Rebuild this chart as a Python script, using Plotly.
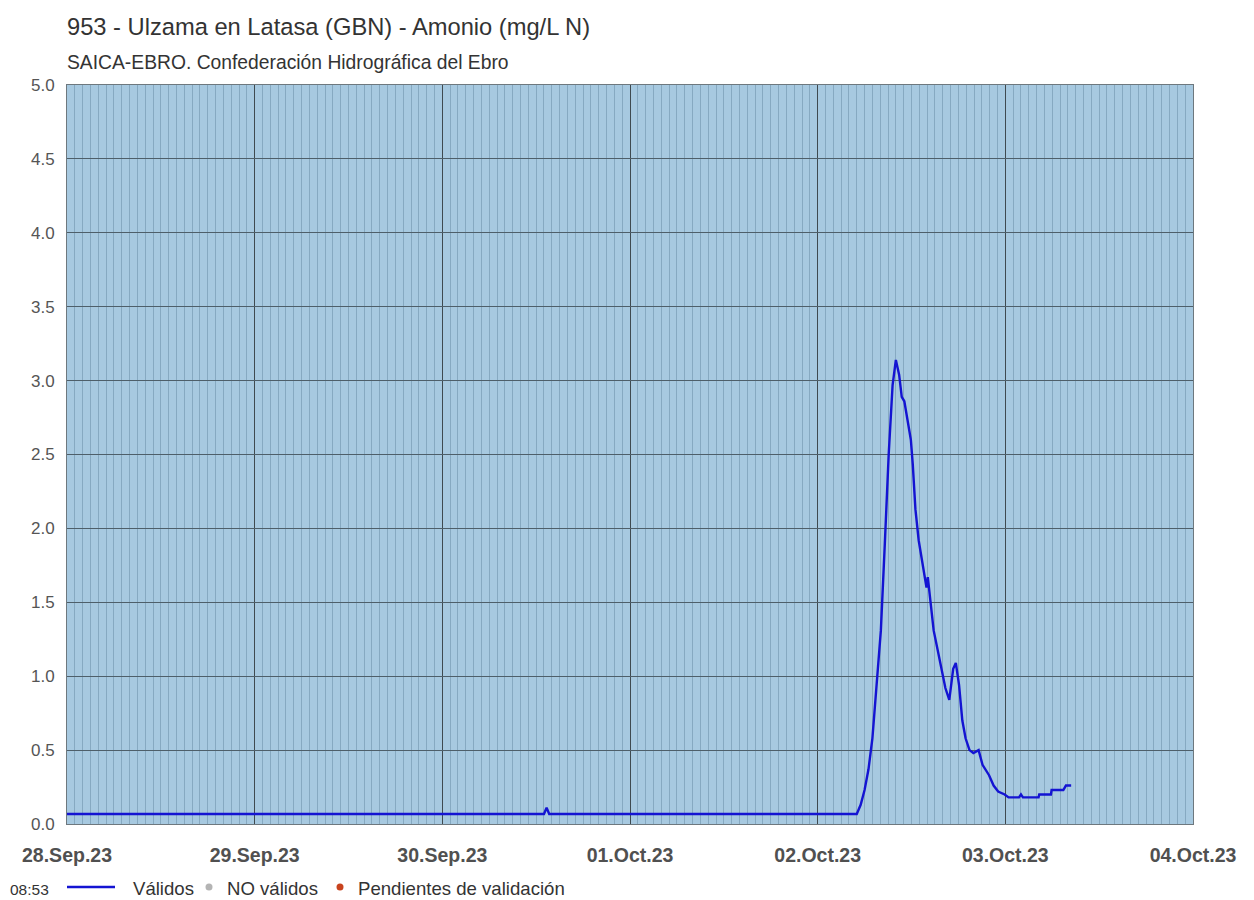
import plotly.graph_objects as go

times = [
    "2023-09-28 00:00", "2023-09-30 13:00", "2023-09-30 13:20", "2023-09-30 13:40",
    "2023-10-02 05:00", "2023-10-02 05:30", "2023-10-02 06:00", "2023-10-02 06:30",
    "2023-10-02 07:00", "2023-10-02 07:30", "2023-10-02 08:05", "2023-10-02 08:35",
    "2023-10-02 09:05", "2023-10-02 09:35", "2023-10-02 10:00", "2023-10-02 10:25",
    "2023-10-02 10:45", "2023-10-02 11:05", "2023-10-02 11:30", "2023-10-02 11:55",
    "2023-10-02 12:10", "2023-10-02 12:30", "2023-10-02 12:55", "2023-10-02 13:25",
    "2023-10-02 13:55", "2023-10-02 14:05", "2023-10-02 14:20", "2023-10-02 14:50",
    "2023-10-02 15:20", "2023-10-02 15:50", "2023-10-02 16:20", "2023-10-02 16:50",
    "2023-10-02 17:20", "2023-10-02 17:40", "2023-10-02 18:05", "2023-10-02 18:30",
    "2023-10-02 18:55", "2023-10-02 19:25", "2023-10-02 19:55", "2023-10-02 20:35",
    "2023-10-02 21:05", "2023-10-02 21:55", "2023-10-02 22:30", "2023-10-02 23:05",
    "2023-10-02 23:55", "2023-10-03 00:25", "2023-10-03 01:45", "2023-10-03 02:00",
    "2023-10-03 02:15", "2023-10-03 04:15", "2023-10-03 04:20", "2023-10-03 05:50",
    "2023-10-03 05:55", "2023-10-03 07:25", "2023-10-03 07:45", "2023-10-03 08:25",
]
values = [
    0.068, 0.068, 0.11, 0.068,
    0.068, 0.13, 0.23, 0.37,
    0.58, 0.91, 1.31, 1.89,
    2.50, 2.97, 3.14, 3.04,
    2.89, 2.86, 2.74, 2.60,
    2.43, 2.13, 1.92, 1.75,
    1.60, 1.67, 1.55, 1.31,
    1.18, 1.06, 0.92, 0.84,
    1.05, 1.09, 0.94, 0.70,
    0.58, 0.50, 0.48, 0.50,
    0.40, 0.33, 0.26, 0.22,
    0.20, 0.18, 0.18, 0.20,
    0.18, 0.18, 0.20, 0.20,
    0.23, 0.23, 0.26, 0.26,
]

title_text = "953 - Ulzama en Latasa (GBN) - Amonio (mg/L N)"
subtitle_text = "SAICA-EBRO. Confederación Hidrográfica del Ebro"
legend_names = ["Válidos", "NO válidos", "Pendientes de validación"]
legend_colors = ["#1414d2", "#b4b4b4", "#c8431e"]
time_label = "08:53"

FONT = "Liberation Sans, Arial, sans-serif"

# layout geometry (page body margin removed via post_script)
W, H = 1254, 900
ML, MR, MT, MB = 67, 61, 85, 76
PW = W - ML - MR
PH = H - MT - MB


def px_x(dx):
    """horizontal pixel offset from plot left -> paper fraction"""
    return dx / PW


def px_y(dy):
    """vertical pixel offset below plot bottom -> paper fraction"""
    return -dy / PH


fig = go.Figure()
fig.add_trace(go.Scatter(
    x=times, y=values, mode="lines", name=legend_names[0],
    line=dict(color=legend_colors[0], width=2.4),
    showlegend=False,
))

LEG = 63  # legend row, px below plot bottom
shapes = [
    dict(type="line", xref="paper", yref="paper",
         x0=px_x(0), x1=px_x(48), y0=px_y(LEG), y1=px_y(LEG),
         line=dict(color=legend_colors[0], width=2.4)),
    dict(type="circle", xref="paper", yref="paper",
         x0=px_x(142 - 3.5), x1=px_x(142 + 3.5),
         y0=px_y(LEG - 3.5), y1=px_y(LEG + 3.5),
         fillcolor=legend_colors[1], line=dict(width=0)),
    dict(type="circle", xref="paper", yref="paper",
         x0=px_x(273 - 3.5), x1=px_x(273 + 3.5),
         y0=px_y(LEG - 3.5), y1=px_y(LEG + 3.5),
         fillcolor=legend_colors[2], line=dict(width=0)),
]

annotations = [
    dict(text=title_text, xref="paper", yref="paper", x=0, y=1,
         xanchor="left", yanchor="middle", yshift=58, xshift=-2, showarrow=False,
         font=dict(size=23.7, color="#333333", family=FONT)),
    dict(text=subtitle_text, xref="paper", yref="paper", x=0, y=1,
         xanchor="left", yanchor="middle", yshift=23, xshift=-2, showarrow=False,
         font=dict(size=19.3, color="#333333", family=FONT)),
    dict(text=time_label, xref="paper", yref="paper", x=0, y=0,
         xanchor="left", yanchor="middle", xshift=-58, yshift=-65, showarrow=False,
         borderpad=0, font=dict(size=15.5, color="#333333", family=FONT)),
]
for name, dx in zip(legend_names, [66, 160, 291]):
    annotations.append(dict(
        text=name, xref="paper", yref="paper", x=0, y=0,
        xanchor="left", yanchor="middle", xshift=dx - 1, yshift=-64, showarrow=False,
        borderpad=0, font=dict(size=18.6, color="#333333", family=FONT)))

fig.update_layout(
    width=W, height=H,
    margin=dict(l=ML, r=MR, t=MT, b=MB),
    paper_bgcolor="white",
    plot_bgcolor="#a7c9e0",
    font=dict(family=FONT, color="#333333"),
    showlegend=False,
    xaxis=dict(
        type="date",
        range=["2023-09-28 00:00", "2023-10-04 00:00"],
        dtick=86400000, tick0="2023-09-28",
        tickformat="%d.%b.%y",
        showgrid=True, gridcolor="#3f4a50", gridwidth=1,
        minor=dict(dtick=3600000, showgrid=True, gridcolor="#86a9c1", gridwidth=1),
        tickfont=dict(size=19.5, color="#505050", family=FONT, weight="bold"),
        ticks="", ticklabelstandoff=14,
        showline=True, linecolor="#6e787e", linewidth=1, mirror=True,
        zeroline=False,
    ),
    yaxis=dict(
        range=[0, 5], dtick=0.5, tickformat=".1f",
        showgrid=True, gridcolor="#4e5f6a", gridwidth=1.4,
        tickfont=dict(size=17, color="#555555", family=FONT),
        ticks="", ticklabelstandoff=8,
        showline=True, linecolor="#6e787e", linewidth=1, mirror=True,
        zeroline=False,
    ),
    shapes=shapes,
    annotations=annotations,
)

fig.write_html(
    "out.html",
    config={"displayModeBar": False},
    post_script="document.body.style.margin='0';document.body.style.overflow='hidden';",
)
